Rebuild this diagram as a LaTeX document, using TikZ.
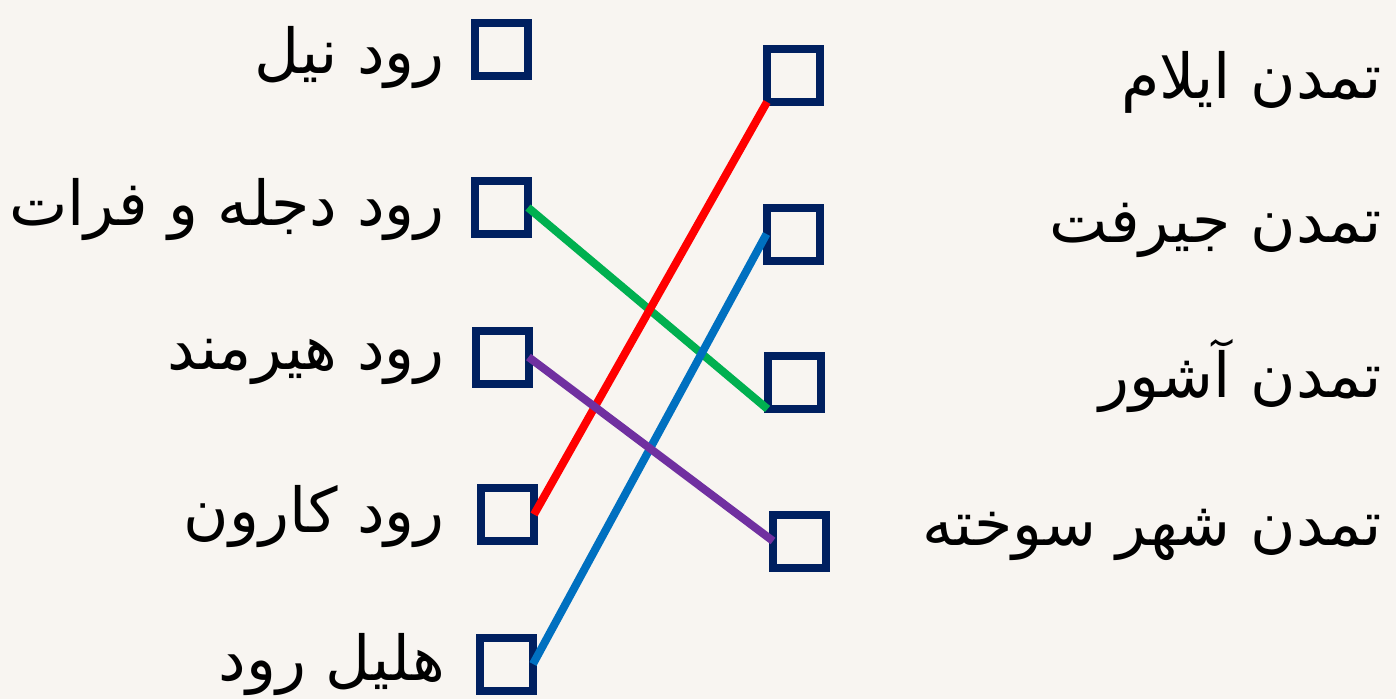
\documentclass[tikz,border=0pt]{standalone}
\usepackage{fontspec}
\TeXXeTstate=1
\newfontfamily\arabicfont[Script=Arabic]{DejaVu Sans}
\definecolor{bgc}{RGB}{248,245,241}
\definecolor{navy}{RGB}{0,32,96}
\definecolor{cred}{RGB}{255,0,0}
\definecolor{cgreen}{RGB}{0,176,80}
\definecolor{cblue}{RGB}{0,112,192}
\definecolor{cpurple}{RGB}{112,48,160}
\begin{document}
\begin{tikzpicture}[x=1pt,y=-1pt,
  cbox/.style={draw=navy,line width=8pt,minimum size=53pt,inner sep=0pt,outer sep=0pt},
  lbl/.style={font=\fontsize{62}{70}\selectfont\arabicfont,inner sep=0pt,anchor=east},
  conn/.style={line width=8pt}]
\fill[bgc] (0,0) rectangle (1396,699);
\useasboundingbox (0,0) rectangle (1396,699);
% left boxes
\node[cbox] (L1) at (501.5,49.5) {};
\node[cbox] (L2) at (501.5,207.5) {};
\node[cbox] (L3) at (502,357) {};
\node[cbox] (L4) at (507.5,514.5) {};
\node[cbox] (L5) at (506.5,664) {};
% right boxes
\node[cbox] (R1) at (793.5,75.5) {};
\node[cbox] (R2) at (793,234) {};
\node[cbox] (R3) at (794,382.5) {};
\node[cbox] (R4) at (799.5,541) {};
% left labels
\node[lbl] (tL1) at (445,58) {\beginR رود نیل\endR};
\node[lbl] (tL2) at (445,210) {\beginR رود دجله و فرات\endR};
\node[lbl] (tL3) at (445,362) {\beginR رود هیرمند\endR};
\node[lbl] (tL4) at (445,517) {\beginR رود کارون\endR};
\node[lbl] (tL5) at (445,665) {\beginR هلیل رود\endR};
% right labels
\node[lbl] (tR1) at (1382,82) {\beginR تمدن ایلام\endR};
\node[lbl] (tR2) at (1382,230) {\beginR تمدن جیرفت\endR};
\node[lbl] (tR3) at (1382,376) {\beginR تمدن آشور\endR};
\node[lbl] (tR4) at (1382,535) {\beginR تمدن شهر سوخته\endR};
% connectors
\draw[conn,cgreen] (L2.east) -- (R3.south west);
\draw[conn,cred] (L4.east) -- (R1.south west);
\draw[conn,cblue] (L5.east) -- (R2.west);
\draw[conn,cpurple] (L3.east) -- (R4.west);
\end{tikzpicture}
\end{document}
